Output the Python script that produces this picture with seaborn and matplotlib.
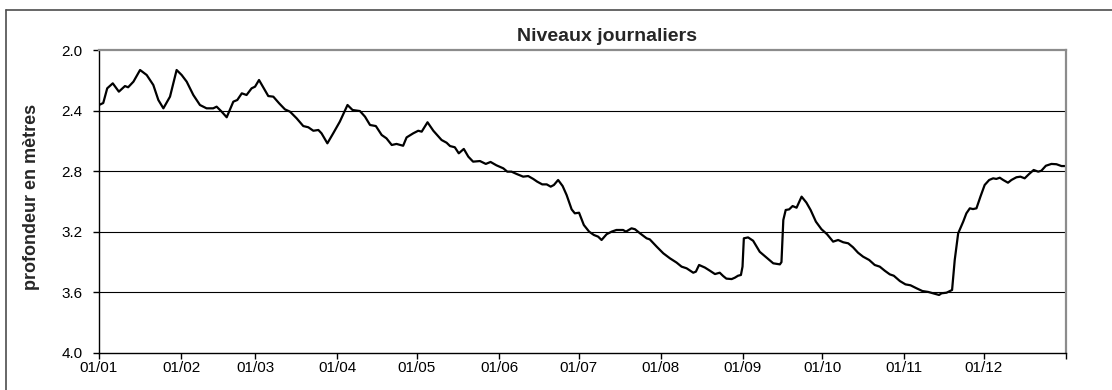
import matplotlib
matplotlib.use("Agg")
import matplotlib.pyplot as plt
from matplotlib.lines import Line2D
import pandas as pd
import seaborn as sns

# Daily groundwater depth (m below surface), day of year 0 = 1 January
day = [0, 1.6, 3.1, 5.2, 7.5, 9.8, 11, 13, 15.5, 18, 20.5, 22.4, 24.3, 26.8, 29.3,
       31.2, 33.1, 35.6, 38.1, 40.6, 43.1, 44.4, 46.3, 48.2, 50.7, 52.2, 53.9, 55.7,
       57.6, 58.9, 60.4, 62, 63.9, 65.8, 68, 70.2, 72.1, 74.6, 77.1, 79, 80.9, 82.8,
       84, 86.2, 88.4, 90.9, 93.8, 95.7, 98.5, 100.4, 102.3, 104.5,
       106.7, 108.5, 110.5, 112.3, 114.8, 116.1, 118.6, 120.5, 121.8, 124, 126.2,
       129.3, 131.2, 132.5, 134.3, 135.8, 137.7, 139.4, 141.2, 143.8, 146, 147.8,
       150, 152.6, 154.1, 155.7, 157.6, 160.1, 162, 163.9, 165.4, 167.3, 169, 170.5,
       171.7, 173.3, 175, 176.5, 178.4, 179.6, 181.2, 183, 185, 186.8, 188.4, 189.7,
       191.6, 193.5, 195.3, 197.8, 198.9, 201, 202.3, 204.2, 206.7, 207.9, 210.5,
       213, 215.5, 218, 219.9, 221.8, 224.3, 225.3, 226.5, 228.7, 230.6, 232.5,
       234.3, 235.6, 236.8, 238.8, 240, 241.2, 242.3, 242.9, 243.4, 245, 246.9,
       249.4, 251.3, 254.5, 257, 257.6, 258.3, 259.2, 260.5, 261.8, 263.3, 265.2,
       267, 268.6, 270.6, 272.7, 274.8, 277.1, 279, 280.9, 282.8, 284.6, 286.5,
       288.4, 290.7, 292.8, 294.7, 296.6, 298.5, 300, 302.3, 304.4, 306.3, 308.6,
       310.8, 313, 314.8, 317.1, 318, 319.9, 322, 323, 324.3, 326.2, 327.4, 328.7,
       329.9, 331.2, 332.7, 334.3, 336, 337.5, 338.7, 340, 341.3, 343.1, 344.4,
       346.3, 347.8, 349.4, 351.1, 352.8, 354.5, 355.7, 357.4, 359.5, 361.4, 363.3,
       364.5]
depth = [2.363, 2.35, 2.253, 2.22, 2.275, 2.238, 2.246, 2.209, 2.132, 2.165, 2.231,
         2.33, 2.385, 2.308, 2.132, 2.165, 2.209, 2.297, 2.363, 2.385, 2.385, 2.374,
         2.407, 2.444, 2.341, 2.33, 2.286, 2.297, 2.253, 2.242, 2.198, 2.246, 2.304,
         2.308, 2.352, 2.392, 2.407, 2.451, 2.502, 2.51, 2.533, 2.528, 2.55, 2.616,
         2.55, 2.473, 2.363, 2.396, 2.403, 2.44, 2.495, 2.502,
         2.561, 2.583, 2.627, 2.62, 2.632, 2.577, 2.55, 2.533, 2.539, 2.477, 2.533,
         2.594, 2.612, 2.634, 2.642, 2.682, 2.653, 2.704, 2.737, 2.733, 2.752, 2.739,
         2.761, 2.781, 2.803, 2.803, 2.818, 2.836, 2.832, 2.851, 2.869, 2.887, 2.887,
         2.902, 2.891, 2.858, 2.898, 2.957, 3.052, 3.078, 3.074, 3.155, 3.199, 3.221,
         3.232, 3.254, 3.216, 3.199, 3.188, 3.188, 3.199, 3.177, 3.183, 3.21, 3.243,
         3.25, 3.298, 3.342, 3.375, 3.403, 3.43, 3.441, 3.47, 3.463, 3.419, 3.436,
         3.457, 3.479, 3.47, 3.492, 3.509, 3.512, 3.503, 3.49, 3.485, 3.43, 3.243,
         3.237, 3.259, 3.332, 3.36, 3.408, 3.415, 3.40, 3.122, 3.056, 3.052, 3.03,
         3.041, 2.968, 3.007, 3.056, 3.133, 3.183, 3.216, 3.265, 3.254, 3.269, 3.276,
         3.302, 3.338, 3.364, 3.386, 3.419, 3.43, 3.457, 3.481, 3.49, 3.525, 3.547,
         3.553, 3.573, 3.591, 3.597, 3.606, 3.617, 3.606, 3.602, 3.584, 3.386, 3.21,
         3.133, 3.078, 3.045, 3.05, 3.045, 2.968, 2.891, 2.858, 2.847, 2.851, 2.843,
         2.858, 2.876, 2.858, 2.84, 2.836, 2.847, 2.818, 2.792, 2.803, 2.797, 2.764,
         2.752, 2.754, 2.766, 2.766]

month_start = [0, 31, 59, 90, 120, 151, 181, 212, 243, 273, 304, 334, 365]
month_labels = ["01/01", "01/02", "01/03", "01/04", "01/05", "01/06", "01/07",
                "01/08", "01/09", "01/10", "01/11", "01/12", ""]
depth_ticks = [2.0, 2.4, 2.8, 3.2, 3.6, 4.0]

sns.set_style("white")
plt.rcParams["font.family"] = ["Liberation Sans", "DejaVu Sans"]

W, H = 1112, 390
fig = plt.figure(figsize=(W / 100, H / 100), dpi=100)
ax = fig.add_axes([99 / W, 1 - 353 / H, (1066 - 99) / W, (353 - 50) / H])

df = pd.DataFrame({"jour": day, "profondeur": depth})
sns.lineplot(data=df, x="jour", y="profondeur", color="black", lw=1.6,
             ax=ax, sort=False, estimator=None)

ax.set_xlim(0, 365)
ax.set_ylim(4.0, 2.0)
ax.set_xticks(month_start)
ax.set_xticklabels(month_labels)
ax.set_yticks(depth_ticks)
ax.set_yticklabels([f"{v:.1f}" for v in depth_ticks])

for v in depth_ticks[1:-1]:
    ax.axhline(v, color="black", lw=0.8, zorder=0)

ax.tick_params(axis="both", labelsize=11, colors="black", direction="out",
               length=4, width=1)
ax.tick_params(axis="x", pad=2)
ax.tick_params(axis="y", pad=8)
ax.tick_params(left=True, bottom=True)

for side in ("left", "bottom"):
    ax.spines[side].set_color("black")
    ax.spines[side].set_linewidth(1.0)
for side in ("top", "right"):
    ax.spines[side].set_visible(True)
    ax.spines[side].set_color("#8c8c8c")
    ax.spines[side].set_linewidth(1.6)

ax.set_xlabel("")
ax.set_ylabel("")

fig.text(32 / W, 1 - 197 / H, "profondeur en mètres", fontsize=13,
         fontweight="bold", rotation=90, ha="center", va="center")
fig.text(607 / W, 1 - 40.7 / H, "Niveaux journaliers", fontsize=14,
         fontweight="bold", ha="center", va="baseline")

# chart-area frame
fig.add_artist(Line2D([6 / W, 1.0], [1 - 10 / H, 1 - 10 / H],
                      transform=fig.transFigure, color="#4d4d4d", lw=1.2))
fig.add_artist(Line2D([6 / W, 6 / W], [0.0, 1 - 10 / H],
                      transform=fig.transFigure, color="#4d4d4d", lw=1.2))

fig.savefig("out.png", dpi=100, facecolor="white")
